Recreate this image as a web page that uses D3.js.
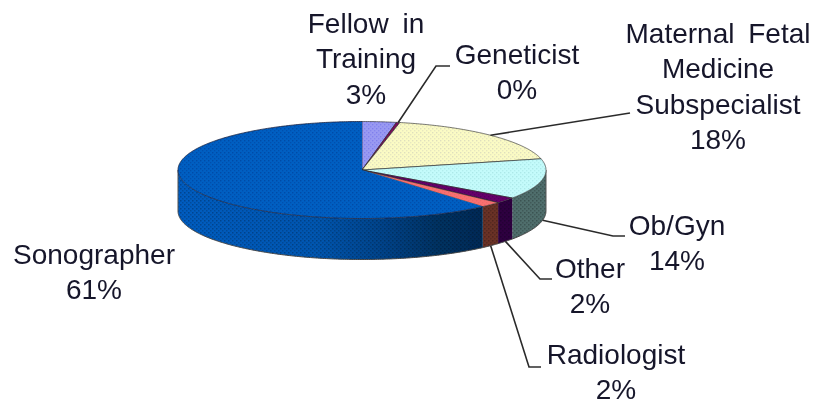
<!DOCTYPE html>
<html><head><meta charset="utf-8">
<script src="https://cdnjs.cloudflare.com/ajax/libs/d3/7.8.5/d3.min.js"></script>
<style>html,body{margin:0;background:#fff}svg{display:block}text{font-family:"Liberation Sans",Arial,sans-serif;font-size:28px;fill:#15152a;word-spacing:6px}</style>
</head><body><div id="c"></div>
<script>
const categories=["Fellow in Training","Geneticist","Maternal Fetal Medicine Subspecialist","Ob/Gyn","Other","Radiologist","Sonographer"];
const values=[3,0.3,18,13.5,1.95,1.85,61.4];
const percentLabels=["3%","0%","18%","14%","2%","2%","61%"];
const topColors=["#9a9af2","#7a0a5a","#fbfbc4","#c4fbfb","#66006a","#f87070","#005fc2"];
const dotColors=["#6a6ae8","#7a0a5a","#c8c8b8","#98d8d8","#400050","#e06060","#003a90"];
const sideColors=["#4a4a78","#3a0530","#7c7c62","#4f6e6c","#2e0040","#6a3228","#005cc0"];
const labelLines=[["Fellow in","Training"],["Geneticist"],["Maternal Fetal","Medicine","Subspecialist"],["Ob/Gyn"],["Other"],["Radiologist"],["Sonographer"]];
const labelCenters=[[366,33],[517,64],[718,43],[677,235],[590,278],[616,364],[94,264]];
const leaderPoints=[null,[[436,66],[450,66]],[[630,113]],[[613,236],[625,236]],[[540,279],[552,279]],[[529,367],[541,367]],null];

const W=816,H=405,cx=362,cy=170,rx=184,ry=48.5,depth=41,lineGap=35.4;
const svg=d3.select("#c").append("svg").attr("width",W).attr("height",H);
const defs=svg.append("defs");
defs.append("filter").attr("id","soft").append("feGaussianBlur").attr("stdDeviation",0.55);
defs.append("filter").attr("id","soft2").append("feGaussianBlur").attr("stdDeviation",0.3);

const arcs=d3.pie().sort(null).value(d=>d)(values);
const px=a=>cx+rx*Math.sin(a), py=a=>cy-ry*Math.cos(a);
const samples=(a,b)=>{const n=Math.max(2,Math.ceil(Math.abs(b-a)/0.01));return d3.range(n+1).map(i=>a+(b-a)*i/n)};

topColors.forEach((c,i)=>{
  const p=defs.append("pattern").attr("id","t"+i).attr("width",4).attr("height",4).attr("patternUnits","userSpaceOnUse");
  p.append("rect").attr("width",4).attr("height",4).attr("fill",c);
  p.append("rect").attr("width",1.4).attr("height",1.4).attr("fill",dotColors[i]).attr("opacity",.55);
  p.append("rect").attr("x",2).attr("y",2).attr("width",1.4).attr("height",1.4).attr("fill",dotColors[i]).attr("opacity",.4);
});
{
  const p=defs.append("pattern").attr("id","sideDots").attr("width",4).attr("height",4).attr("patternUnits","userSpaceOnUse");
  p.append("rect").attr("width",1.5).attr("height",1.5).attr("fill","#000").attr("opacity",.25);
  p.append("rect").attr("x",2).attr("y",2).attr("width",1.5).attr("height",1.5).attr("fill","#000").attr("opacity",.18);
}
const g0=defs.append("linearGradient").attr("id","sonoSide").attr("gradientUnits","userSpaceOnUse").attr("x1",cx-rx).attr("x2",px(arcs[6].startAngle)).attr("y1",0).attr("y2",0);
[[0,"#005cc0"],[.45,"#0056b0"],[.68,"#004288"],[.85,"#003262"],[1,"#002a56"]].forEach(([o,c])=>g0.append("stop").attr("offset",o).attr("stop-color",c));

const g=svg.append("g").attr("filter","url(#soft)");
const line=d3.line();
arcs.forEach((d,i)=>{
  const a=Math.max(d.startAngle,Math.PI/2), b=Math.min(d.endAngle,1.5*Math.PI);
  if(b<=a) return;
  const s=samples(a,b);
  const pts=s.map(t=>[px(t),py(t)]).concat(s.slice().reverse().map(t=>[px(t),py(t)+depth]));
  g.append("path").attr("d",line(pts)+"Z").attr("fill",i===6?"url(#sonoSide)":sideColors[i]);
  g.append("path").attr("d",line(pts)+"Z").attr("fill","url(#sideDots)");
});
{
 const s=samples(Math.PI/2,1.5*Math.PI);
 g.append("path").attr("d",line(s.map(t=>[px(t),py(t)+depth]))).attr("fill","none").attr("stroke","#444").attr("stroke-width",1);
 [Math.PI/2,1.5*Math.PI].forEach(t=>g.append("path").attr("d",line([[px(t),py(t)],[px(t),py(t)+depth]])).attr("stroke","#555").attr("stroke-width",1));
}
arcs.forEach((d,i)=>{
  const pts=[[cx,cy]].concat(samples(d.startAngle,d.endAngle).map(t=>[px(t),py(t)]));
  g.append("path").attr("d",line(pts)+"Z").attr("fill","url(#t"+i+")").attr("stroke","#2a2a2a").attr("stroke-width",i===6?0:.9).attr("stroke-opacity",.7);
});
{const d=arcs[6];g.append("path").attr("d",line(samples(d.startAngle,d.endAngle).map(t=>[px(t),py(t)]))).attr("fill","none").attr("stroke","#1a2240").attr("stroke-width",1).attr("stroke-opacity",.8);}

leaderPoints.forEach((l,i)=>{
  if(!l) return;
  const mid=(arcs[i].startAngle+arcs[i].endAngle)/2;
  const front=mid>Math.PI/2;
  const start=[px(mid),py(mid)+(front?depth:0)];
  g.append("path").attr("d",line([start,...l])).attr("fill","none").attr("stroke","#2b2b2b").attr("stroke-width",1.6);
});
labelLines.forEach((ls,i)=>{
  const t=svg.append("text").attr("text-anchor","middle").attr("filter","url(#soft2)");
  ls.concat(percentLabels[i]).forEach((s,j)=>t.append("tspan").attr("x",labelCenters[i][0]).attr("y",labelCenters[i][1]+j*lineGap).text(s));
});
</script></body></html>
